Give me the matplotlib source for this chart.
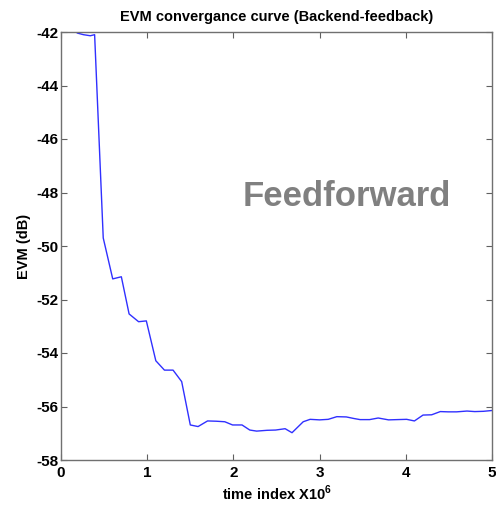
import matplotlib
matplotlib.use("Agg")
import matplotlib.pyplot as plt

plt.rcParams['font.family'] = ['Liberation Sans', 'DejaVu Sans']
plt.rcParams['font.weight'] = 'bold'
plt.rcParams['axes.unicode_minus'] = False
plt.rcParams['mathtext.fontset'] = 'custom'
plt.rcParams['mathtext.bf'] = 'Liberation Sans:bold'
plt.rcParams['mathtext.rm'] = 'Liberation Sans:bold'

# time index (x10^6) and EVM in dB
t = [0.19, 0.26, 0.34, 0.39, 0.49, 0.60, 0.70, 0.79, 0.90, 0.99,
     1.10, 1.20, 1.30, 1.40, 1.50, 1.59, 1.70, 1.80, 1.90, 1.99,
     2.10, 2.19, 2.27, 2.39, 2.49, 2.60, 2.68, 2.81, 2.89, 3.00,
     3.10, 3.20, 3.31, 3.40, 3.47, 3.58, 3.68, 3.80, 3.90, 4.01,
     4.10, 4.20, 4.30, 4.40, 4.49, 4.59, 4.71, 4.80, 4.90, 5.00]
evm = [-42.04, -42.10, -42.14, -42.10, -49.70, -51.23, -51.15, -52.54, -52.83, -52.80,
       -54.29, -54.64, -54.64, -55.07, -56.69, -56.75, -56.54, -56.55, -56.57, -56.69,
       -56.69, -56.88, -56.92, -56.89, -56.88, -56.83, -56.98, -56.57, -56.48, -56.50,
       -56.48, -56.38, -56.39, -56.45, -56.49, -56.49, -56.43, -56.50, -56.49, -56.48,
       -56.54, -56.32, -56.31, -56.19, -56.20, -56.20, -56.17, -56.19, -56.18, -56.15]

xticks = [0, 1, 2, 3, 4, 5]
yticks = [-58, -56, -54, -52, -50, -48, -46, -44, -42]

fig = plt.figure(figsize=(4.96, 5.08), dpi=100)
ax = fig.add_axes([61/496, 48/508, 431/496, 428/508])

ax.plot(t, evm, color='#3030ff', lw=1.0)

ax.set_xlim(0, 5)
ax.set_ylim(-58, -42)
ax.set_xticks(xticks)
ax.set_yticks(yticks)
ax.tick_params(direction='in', length=4, width=0.8, color='#606060',
               top=True, right=True, labelsize=11, pad=2)
ax.tick_params(axis='x', pad=4)
for lab in ax.get_xticklabels() + ax.get_yticklabels():
    lab.set_fontweight('bold')
for s in ax.spines.values():
    s.set_color('#707070')
    s.set_linewidth(1.0)

ax.set_title('EVM convergance curve (Backend-feedback)', fontsize=10.5,
             fontweight='bold', pad=8)
ax.set_xlabel(r'time index X10$^{\mathbf{6}}$', fontsize=10.5, fontweight='bold', labelpad=3)
ax.set_ylabel('EVM (dB)', fontsize=10.5, fontweight='bold', labelpad=4)

ax.text(3.31, -48.15, 'Feedforward', fontsize=25, fontweight='bold',
        color='#808080', ha='center', va='center')

fig.savefig('out.png', dpi=100)
